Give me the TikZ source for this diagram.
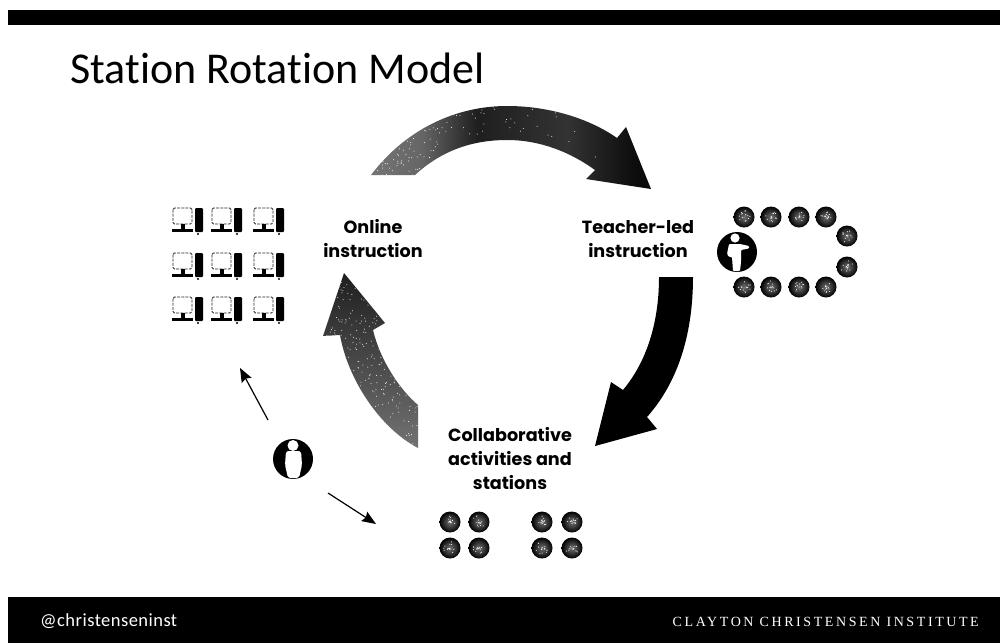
\documentclass[tikz,border=0pt]{standalone}
\usepackage{fontspec}
\setmainfont[Ligatures=NoCommon,Contextuals=NoAlternate]{Carlito}
\newfontfamily\labelfont[BoldFont={Poppins Bold}]{Poppins}
\newfontfamily\instfont[LetterSpace=18.5]{Liberation Serif}
\newfontfamily\handlefont[LetterSpace=2.5,Ligatures=NoCommon]{Carlito}
\usetikzlibrary{arrows.meta}
\pgfdeclarehorizontalshading{topgrad}{100bp}{color(0bp)=(black!55); color(26bp)=(black!55); color(34bp)=(black!60); color(44bp)=(black!88); color(60bp)=(black!80); color(72bp)=(black!95); color(100bp)=(black)}
\tikzset{
  bandbar/.style={fill=black,draw=none},
  labeltext/.style={font=\labelfont\fontsize{17.6}{24}\selectfont\bfseries,align=center,text=black,inner sep=0pt},
  student/.style={inner color=black!55,outer color=black,draw=none},
  thinarrow/.style={-{Stealth[length=14pt,width=11pt,inset=2pt]},line width=1.2pt},
  personshape/.style={fill=white,draw=none},
  speck/.style={fill=white,draw=none},
  pics/computer/.style={code={
    \draw[line width=0.9pt,dash pattern=on 3pt off 1.2pt,rounded corners=1.5pt,black!85] (1,0) rectangle (20,16);
    \fill (9,16) rectangle (13,21);
    \fill (0,20.5) rectangle (21,23.5);
    \fill[rounded corners=1pt] (23,0) rectangle (31,24);
    \fill (26,26) circle (1.2);
  }}
}
\newcommand{\studentdot}[3]{\node[circle,minimum size=21pt,inner sep=0pt] (#1) at (#2,#3) {};
  \shade[student] (#2,#3) circle (10.5);
  \foreach \k in {1,...,14}{\pgfmathsetmacro{\ra}{rnd*360}\pgfmathsetmacro{\rr}{rnd*6.5}\fill[speck] (#2,#3) ++(\ra:\rr) circle (0.55);}}
\newcommand{\toparrow}{(371,175) .. controls (405,130) and (455,106) .. (507,106)
  .. controls (550,106) and (590,119) .. (617,138) -- (626,127) -- (651,189) -- (586,179) -- (595,170)
  .. controls (570,152) and (540,140) .. (507,140)
  .. controls (470,140) and (440,152) .. (415,175) -- cycle}
\newcommand{\leftarrowshape}{(418,405) .. controls (400,390) and (380,360) .. (373,330)
  -- (385,323) -- (344,273) -- (323,336) -- (340,335)
  .. controls (348,380) and (380,428) .. (418,448) -- cycle}
\begin{document}
\begin{tikzpicture}[x=1pt,y=-1pt]
\pgfmathsetseed{4242}
\useasboundingbox (0,0) rectangle (1000,643);
\fill[white] (0,0) rectangle (1000,643);
\fill[bandbar] (8,10) rectangle (1000,25);
\fill[bandbar] (8,597) rectangle (1000,643);
\node[anchor=base west,inner sep=0pt,font=\fontsize{44}{48}\selectfont] (title) at (70,83) {Station Rotation Model};
\node[anchor=base west,inner sep=0pt,text=white,font=\handlefont\fontsize{18.5}{20}\selectfont] (handle) at (40,626) {@christenseninst};
\node[anchor=base east,inner sep=0pt,text=white,font=\instfont\fontsize{14}{16}\selectfont] (inst) at (979,626) {CLAYTON CHRISTENSEN INSTITUTE};
% block arrows
\shade[shading=topgrad] \toparrow;
\begin{scope}
  \clip \toparrow;
  \foreach \k in {1,...,260}{\pgfmathsetmacro{\px}{371+rnd*rnd*230}\pgfmathsetmacro{\py}{105+rnd*75}\fill[speck] (\px,\py) circle (0.5);}
\end{scope}
\fill[black] (659,277) -- (693,277) .. controls (693,330) and (680,380) .. (647,417)
  -- (657,429) -- (595,446) -- (611,382) -- (623,390)
  .. controls (648,360) and (659,320) .. (659,277) -- cycle;
\shade[bottom color=black!55,top color=black!88] \leftarrowshape;
\begin{scope}
  \clip \leftarrowshape;
  \foreach \k in {1,...,420}{\pgfmathsetmacro{\px}{323+rnd*96}\pgfmathsetmacro{\py}{273+rnd*176}\fill[speck] (\px,\py) circle (0.5);}
\end{scope}
% labels
\node[labeltext] (online) at (373,239) {Online\\instruction};
\node[labeltext] (teacherled) at (638,239) {Teacher-led\\instruction};
\node[labeltext] (collab) at (510,459) {Collaborative\\activities and\\stations};
% computers
\foreach \cx in {172,211,253}{\foreach \cy in {208,253,297}{
  \pic at (\cx,\cy) {computer};
}}
% teacher group
\foreach \n/\sx/\sy in {a/744/217,b/771/217,c/799/217,d/826/217,e/847/236,f/847/267,g/744/287,h/771/287,i/799/287,j/826/287}{
  \studentdot{t\n}{\sx}{\sy}
}
\node[circle,fill=black,minimum size=40pt,inner sep=0pt] (teacher) at (737,252) {};
\fill[personshape] (735,238) circle (4.6);
\fill[personshape,rounded corners=1pt] (729,244) -- (740,244) -- (749,246) -- (749,248.5) -- (741,250) -- (741,262) -- (740,271) -- (733,271) -- (732,257) -- (729,257) -- (727,254) -- cycle;
% group stations
\foreach \n/\sx/\sy in {a/450/522,b/479/522,c/450/548,d/479/548,e/542/522,f/572/522,g/542/548,h/572/548}{
  \studentdot{g\n}{\sx}{\sy}
}
% facilitator
\node[circle,fill=black,minimum size=40pt,inner sep=0pt] (facil) at (293,459) {};
\fill[personshape] (293,445.5) circle (5.5);
\fill[personshape,rounded corners=2pt] (286,451) -- (301,451) -- (302,465) -- (299,478) -- (288,478) -- (285,465) -- cycle;
\coordinate (upstart) at (268,420);
\coordinate (uptip) at (240,368);
\coordinate (downstart) at (328,493);
\coordinate (downtip) at (376,524);
\draw[thinarrow] (upstart) -- (uptip);
\draw[thinarrow] (downstart) -- (downtip);
\end{tikzpicture}
\end{document}
